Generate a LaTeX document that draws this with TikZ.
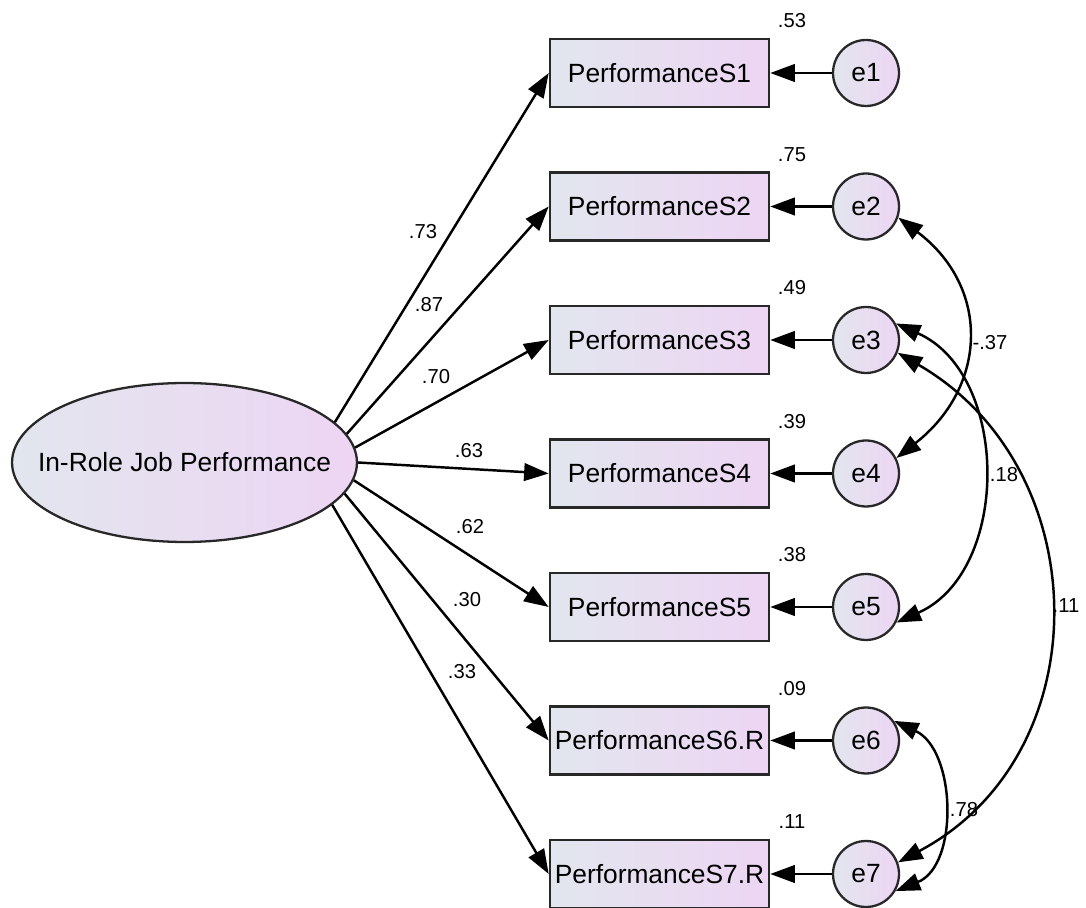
\documentclass[tikz,border=0pt]{standalone}
\usepackage{fontspec}
\setmainfont{Liberation Sans}
\usetikzlibrary{arrows.meta,shapes.geometric}
\definecolor{mgray}{RGB}{226,230,238}
\definecolor{mpink}{RGB}{237,213,243}
\definecolor{mline}{RGB}{40,40,40}

\begin{document}
\begin{tikzpicture}[x=0.02cm, y=0.02cm, >={Triangle[length=14pt,width=10pt]}]
  \tikzset{obs box/.style={draw=mline,line width=1.5pt,rectangle,minimum width=4.38cm,minimum height=1.36cm,inner sep=0pt,left color=mgray,right color=mpink,font=\fontsize{15}{18}\selectfont},
    err circle/.style={draw=mline,line width=1.3pt,circle,minimum size=1.32cm,inner sep=0pt,left color=mgray,right color=mpink,font=\fontsize{15}{18}\selectfont},
    latent/.style={draw=mline,line width=1.3pt,ellipse,minimum width=6.9cm,minimum height=3.18cm,inner sep=0pt,left color=mgray,right color=mpink},
    coef/.style={font=\fontsize{11.5}{13}\selectfont,inner sep=1pt},
    load arrow/.style={->,line width=1.4pt},
    cov arrow/.style={<->,line width=1.4pt}}

  \useasboundingbox (0,0) rectangle (1086,-908);

  % latent factor
  \node [latent] (J) at (184.5,-462.5) {};
  \node [font=\fontsize{15}{18}\selectfont] (Jname) at (J.center) {In-Role Job Performance};

  % observed items
  \node [obs box] (S1) at (659.5,-73) {PerformanceS1};
  \node [obs box] (S2) at (659.5,-206.5) {PerformanceS2};
  \node [obs box] (S3) at (659.5,-340) {PerformanceS3};
  \node [obs box] (S4) at (659.5,-473.5) {PerformanceS4};
  \node [obs box] (S5) at (659.5,-607) {PerformanceS5};
  \node [obs box] (S6) at (659.5,-740.5) {PerformanceS6.R};
  \node [obs box] (S7) at (659.5,-874) {PerformanceS7.R};

  % error terms
  \node [err circle] (e1) at (866,-73) {e1};
  \node [err circle] (e2) at (866,-206.5) {e2};
  \node [err circle] (e3) at (866,-340) {e3};
  \node [err circle] (e4) at (866,-473.5) {e4};
  \node [err circle] (e5) at (866,-607) {e5};
  \node [err circle] (e6) at (866,-740.5) {e6};
  \node [err circle] (e7) at (866,-874) {e7};

  % squared multiple correlations
  \node [coef] (r1) at (792,-21) {.53};
  \node [coef] (r2) at (792,-154.5) {.75};
  \node [coef] (r3) at (792,-288) {.49};
  \node [coef] (r4) at (792,-421.5) {.39};
  \node [coef] (r5) at (792,-555) {.38};
  \node [coef] (r6) at (792,-688.5) {.09};
  \node [coef] (r7) at (792,-822) {.11};

  % loadings
  \draw [load arrow] (J.15) -- (S1.west);
  \draw [load arrow] (J.10) -- (S2.west);
  \draw [load arrow] (J.5) -- (S3.west);
  \draw [load arrow] (J.0) -- (S4.west);
  \draw [load arrow] (J.-6) -- (S5.west);
  \draw [load arrow] (J.-11) -- (S6.west);
  \draw [load arrow] (J.-16) -- (S7.west);
  \node [coef] (l1) at (423,-232) {.73};
  \node [coef] (l2) at (429,-305) {.87};
  \node [coef] (l3) at (436,-377) {.70};
  \node [coef] (l4) at (469,-451) {.63};
  \node [coef] (l5) at (470,-527) {.62};
  \node [coef] (l6) at (467,-600) {.30};
  \node [coef] (l7) at (462,-672) {.33};

  % error paths
  \draw [load arrow] (e1) -- (S1);
  \draw [load arrow] (e2) -- (S2);
  \draw [load arrow] (e3) -- (S3);
  \draw [load arrow] (e4) -- (S4);
  \draw [load arrow] (e5) -- (S5);
  \draw [load arrow] (e6) -- (S6);
  \draw [load arrow] (e7) -- (S7);

  % error covariances
  \draw [cov arrow] (e2.-19) to [out=-37, in=38, looseness=1.23] (e4.27);
  \draw [cov arrow] (e3.29) to [out=-24, in=24, looseness=1.07] (e5.-27);
  \draw [cov arrow] (e3.-22) to [out=-30, in=28, looseness=1.16] (e7.20);
  \draw [cov arrow] (e6.35) to [out=-25, in=22, looseness=1.03] (e7.-30);
  \node [coef] (c1) at (990,-343) {-.37};
  \node [coef] (c2) at (1004,-475) {.18};
  \node [coef] (c3) at (1066,-606) {.11};
  \node [coef] (c4) at (964,-810) {.78};
\end{tikzpicture}
\end{document}
